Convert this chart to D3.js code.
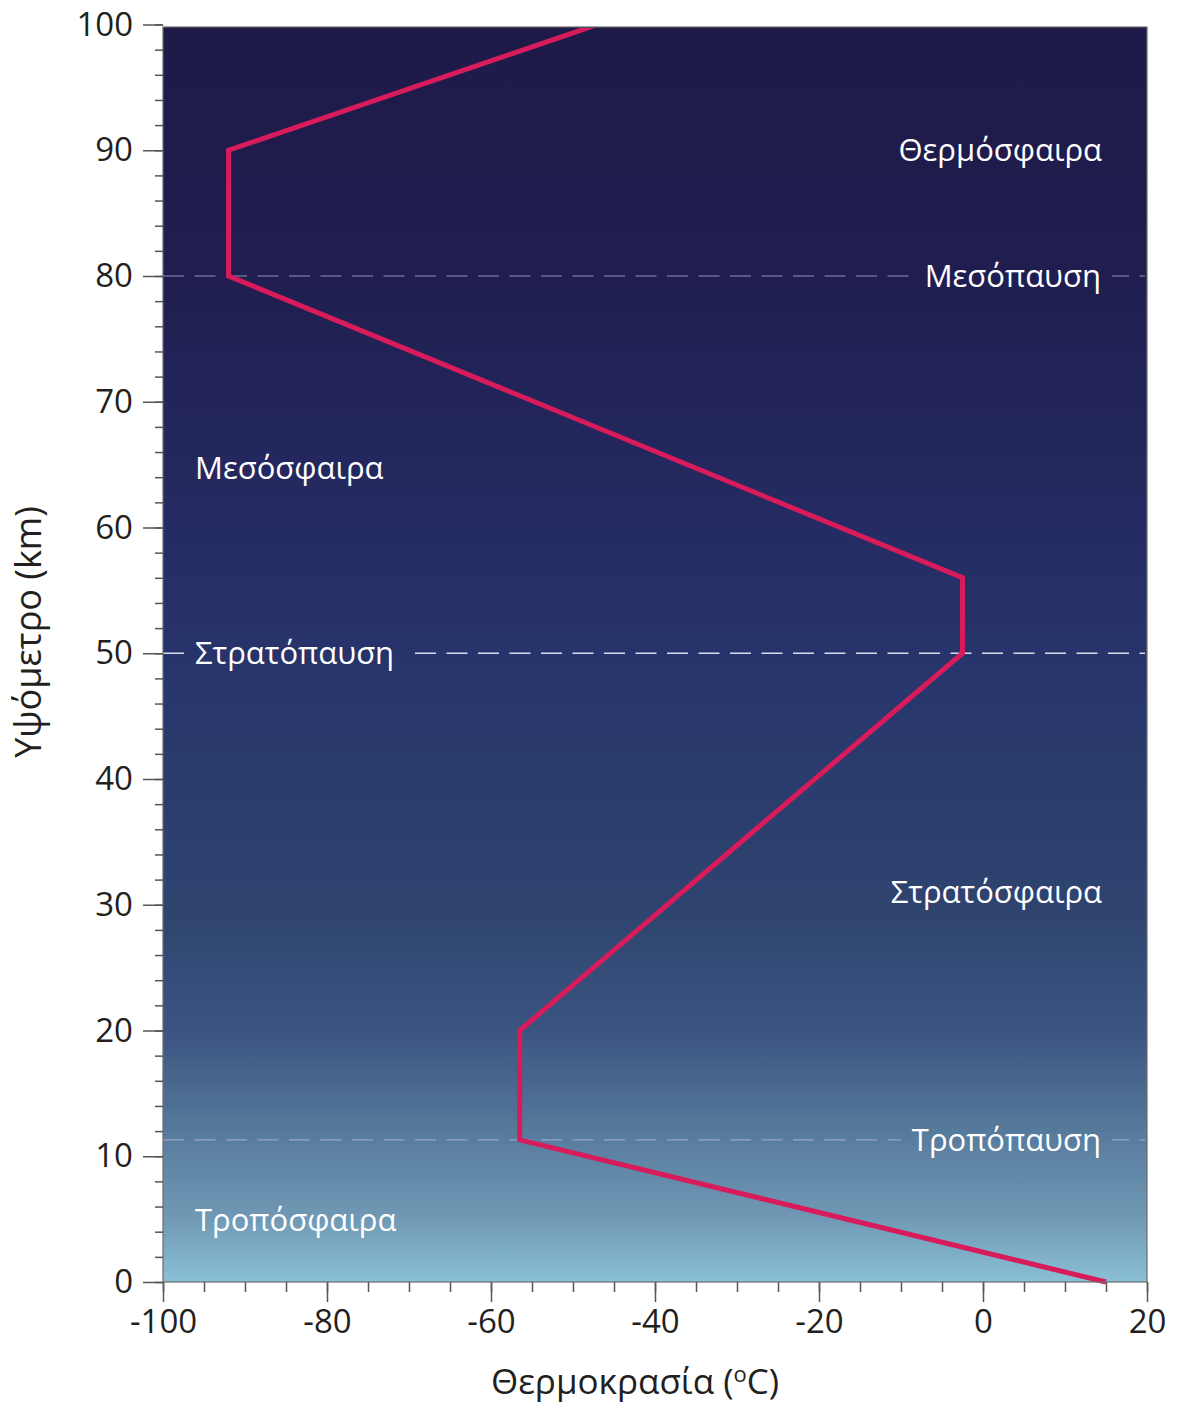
<!DOCTYPE html>
<html>
<head>
<meta charset="utf-8">
<script src="https://cdn.jsdelivr.net/npm/d3@7"></script>
<style>
  html, body { margin: 0; padding: 0; background: #fff; }
  svg { display: block; font-family: "Open Sans", "Noto Sans", sans-serif; }
</style>
</head>
<body>
<svg id="chart" width="1177" height="1406"></svg>
<script>
// ---- data ----
const temperatures = [15, -56.5, -56.5, -2.5, -2.5, -92, -92, -47];   // °C
const altitudes    = [0, 11.3, 20, 50, 56, 80, 90, 100];              // km
const xTickValues = [-100, -80, -60, -40, -20, 0, 20];
const yTickValues = [0, 10, 20, 30, 40, 50, 60, 70, 80, 90, 100];
const pauseNames = ["Τροπόπαυση", "Στρατόπαυση", "Μεσόπαυση"];
const pauseAltitudes = [11.3, 50, 80];
const pauseSides = ["right", "left", "right"];
const sphereNames = ["Τροπόσφαιρα", "Στρατόσφαιρα", "Μεσόσφαιρα", "Θερμόσφαιρα"];
const sphereAltitudes = [4.9, 31, 64.7, 90];
const sphereSides = ["left", "right", "left", "right"];
const xTitle = "Θερμοκρασία (";
const yTitle = "Υψόμετρο (km)";

// ---- layout ----
(function () {
const svg = d3.select("#chart");
const pL = 163, pR = 1147, pT = 27, pB = 1282;
const x = d3.scaleLinear().domain([-100, 20]).range([pL, pR]);
const y = d3.scaleLinear().domain([0, 100]).range([pB, 24.5]);

// gradient background
const defs = svg.append("defs");
const grad = defs.append("linearGradient").attr("id", "bg")
  .attr("gradientUnits", "userSpaceOnUse")
  .attr("x1", 0).attr("y1", pT).attr("x2", 0).attr("y2", pB);
[[0, "#1e1a48"], [0.2, "#201e50"], [0.4, "#252b63"], [0.5, "#27346b"],
 [0.7, "#2e446f"], [0.8, "#3b5480"], [0.88, "#567a9c"], [0.95, "#7199b5"], [1, "#8ac0d5"]]
  .forEach(([o, c]) => grad.append("stop").attr("offset", o).attr("stop-color", c));
defs.append("clipPath").attr("id", "plotclip").append("rect")
  .attr("x", pL - 10).attr("y", pT + 1).attr("width", pR - pL + 20).attr("height", pB - pT + 10);

svg.append("rect").attr("x", pL).attr("y", pT)
  .attr("width", pR - pL).attr("height", pB - pT)
  .attr("fill", "url(#bg)");

// pause dashed lines
const pauses = pauseNames.map((n, i) => ({ name: n, alt: pauseAltitudes[i], side: pauseSides[i] }));
const pg = svg.append("g");
pauses.forEach(p => {
  const strong = p.name === "Στρατόπαυση";
  pg.append("line")
    .attr("x1", pL).attr("x2", pR - 2)
    .attr("y1", y(p.alt)).attr("y2", y(p.alt))
    .attr("stroke", strong ? "#e2e6f2" : "#a9b0cc")
    .attr("stroke-opacity", strong ? 0.95 : 0.8)
    .attr("stroke-width", strong ? 1.6 : 1.2)
    .attr("stroke-dasharray", "21,10.5");
  const t = pg.append("text")
    .attr("x", p.side === "left" ? 195 : 1101)
    .attr("y", y(p.alt)).attr("dy", "0.35em")
    .attr("text-anchor", p.side === "left" ? "start" : "end")
    .attr("fill", "#ffffff").attr("font-size", 31)
    .text(p.name);
  const bb = t.node().getBBox();
  pg.insert("rect", () => t.node())
    .attr("x", bb.x - 11).attr("y", bb.y)
    .attr("width", bb.width + 22).attr("height", bb.height)
    .attr("fill", "url(#bg)");
});

// sphere labels
sphereNames.forEach((n, i) => {
  svg.append("text")
    .attr("x", sphereSides[i] === "left" ? 195 : 1102)
    .attr("y", y(sphereAltitudes[i])).attr("dy", "0.35em")
    .attr("text-anchor", sphereSides[i] === "left" ? "start" : "end")
    .attr("fill", "#ffffff").attr("font-size", 31)
    .text(n);
});

// temperature profile
const pts = temperatures.map((t, i) => [t, altitudes[i]]);
svg.append("path")
  .datum(pts)
  .attr("clip-path", "url(#plotclip)")
  .attr("d", d3.line().x(d => x(d[0])).y(d => y(d[1])))
  .attr("fill", "none").attr("stroke", "#d71b5b")
  .attr("stroke-width", 5).attr("stroke-linejoin", "miter");

// frame
svg.append("rect").attr("x", pL).attr("y", pT)
  .attr("width", pR - pL).attr("height", pB - pT)
  .attr("fill", "none").attr("stroke", "#6b6b6b").attr("stroke-width", 1.2);

// axes
const axisColor = "#555555";
const xg = svg.append("g").attr("transform", `translate(0,${pB})`);
xg.call(d3.axisBottom(x).tickValues(d3.range(-100, 20.1, 5)).tickSize(10).tickFormat(""));
xg.append("g").call(d3.axisBottom(x).tickValues(xTickValues).tickSize(20).tickPadding(8)
  .tickFormat(d => d));
xg.selectAll(".domain").remove();
xg.selectAll("line").attr("stroke", axisColor).attr("stroke-width", 1.5);
xg.selectAll("text").attr("font-size", 33).attr("fill", "#231f20")
  .attr("font-family", "Open Sans, sans-serif");

const yg = svg.append("g").attr("transform", `translate(${pL},0)`);
yg.call(d3.axisLeft(y).tickValues(d3.range(0, 100.1, 2)).tickSize(8).tickFormat(""));
yg.append("g").call(d3.axisLeft(y).tickValues(yTickValues).tickSize(20).tickPadding(10)
  .tickFormat(d => d));
yg.selectAll(".domain").remove();
yg.selectAll("line").attr("stroke", axisColor).attr("stroke-width", 1.5);
yg.selectAll("text").attr("font-size", 33).attr("fill", "#231f20")
  .attr("font-family", "Open Sans, sans-serif");

// axis titles
const xt = svg.append("text").attr("x", 635).attr("y", 1394)
  .attr("text-anchor", "middle").attr("font-size", 35).attr("fill", "#231f20");
xt.append("tspan").text(xTitle);
xt.append("tspan").attr("font-size", 22).attr("dy", -12).text("o");
xt.append("tspan").attr("dy", 12).text("C)");

svg.append("text")
  .attr("transform", "translate(41,632) rotate(-90)")
  .attr("text-anchor", "middle").attr("font-size", 36).attr("fill", "#231f20")
  .text(yTitle);
})();
</script>
</body>
</html>
